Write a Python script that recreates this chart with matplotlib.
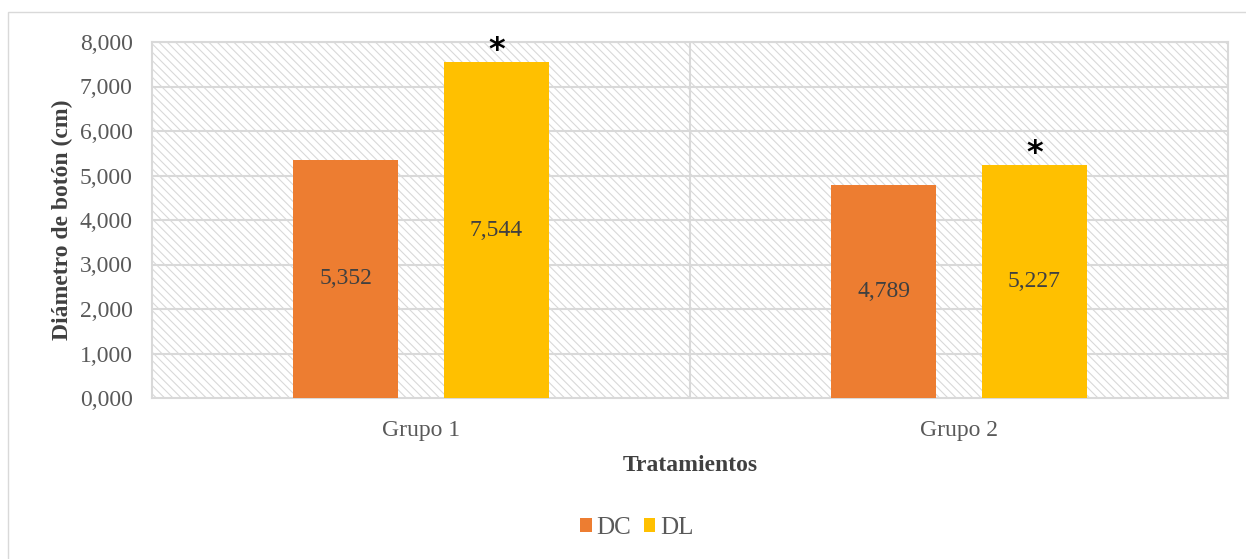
import matplotlib.pyplot as plt
import matplotlib.patches as mpatches
from matplotlib.ticker import FuncFormatter
import numpy as np

plt.rcParams['font.family'] = ['Liberation Serif', 'DejaVu Serif']
plt.rcParams['hatch.color'] = '#d9d9d9'
plt.rcParams['hatch.linewidth'] = 0.8

grupos = ['Grupo 1', 'Grupo 2']
dc = [5.352, 4.789]
dl = [7.544, 5.227]
marcas = ['*', '*']  # sobre DL

fig = plt.figure(figsize=(12.46, 5.59), dpi=100)
# borde exterior del grafico
fig.patches.append(mpatches.Rectangle((8 / 1246, -0.01), 1.02, 1 - 12 / 559 + 0.01,
                                      transform=fig.transFigure, fill=False,
                                      edgecolor='#d9d9d9', linewidth=1))

ax = fig.add_axes([152 / 1246, 1 - 398 / 559, (1228 - 152) / 1246, (398 - 42) / 559])
ax.set_xlim(-0.5, 1.5)
ax.set_ylim(0, 8)

# fondo rayado
ax.add_patch(mpatches.Rectangle((0, 0), 1, 1, transform=ax.transAxes, facecolor='white',
                                edgecolor='#d9d9d9', hatch='\\\\\\\\', linewidth=0, zorder=0))

for y in np.arange(1, 9):
    ax.axhline(y, color='#d9d9d9', lw=1.5, zorder=1)
ax.axvline(0.5, color='#d9d9d9', lw=1.5, zorder=1)

x = np.arange(len(grupos))
w = 0.195
off = 0.14
b1 = ax.bar(x - off, dc, w, color='#ED7D31', label='DC', zorder=3)
b2 = ax.bar(x + off, dl, w, color='#FFC000', label='DL', zorder=3)

for rects, vals in [(b1, dc), (b2, dl)]:
    for r, v in zip(rects, vals):
        ax.text(r.get_x() + r.get_width() / 2, v / 2, f'{v:.3f}'.replace('.', ','),
                ha='center', va='center', fontsize=17, color='#404040', zorder=4)

for r, m in zip(b2, marcas):
    ax.text(r.get_x() + r.get_width() / 2, r.get_height() + 0.27, m, ha='center',
            va='center', fontsize=23, fontfamily='DejaVu Sans', fontweight='bold', color='black')

for s in ax.spines.values():
    s.set_color('#d9d9d9')
    s.set_linewidth(1.5)

ax.yaxis.set_major_formatter(FuncFormatter(lambda v, p: f'{int(v)},000'))
ax.set_yticks(np.arange(0, 9))
ax.set_xticks(x)
ax.set_xticklabels(grupos)
ax.tick_params(axis='both', length=0, labelsize=17, labelcolor='#595959')
ax.tick_params(axis='y', pad=14)
ax.tick_params(axis='x', pad=16)

ax.set_ylabel('Diámetro de botón (cm)', fontsize=17, fontweight='bold', color='#404040', labelpad=5)
ax.set_xlabel('Tratamientos', fontsize=17, fontweight='bold', color='#404040', labelpad=10)

leg = fig.legend(handles=[b1, b2], labels=['DC', 'DL'], loc='center', bbox_to_anchor=(637 / 1246, 1 - 528 / 559),
                 ncol=2, frameon=False, fontsize=18, handlelength=0.45, handleheight=0.45,
                 handletextpad=0.2, columnspacing=0.5, labelcolor='#595959')

fig.savefig('out.png', dpi=100)
